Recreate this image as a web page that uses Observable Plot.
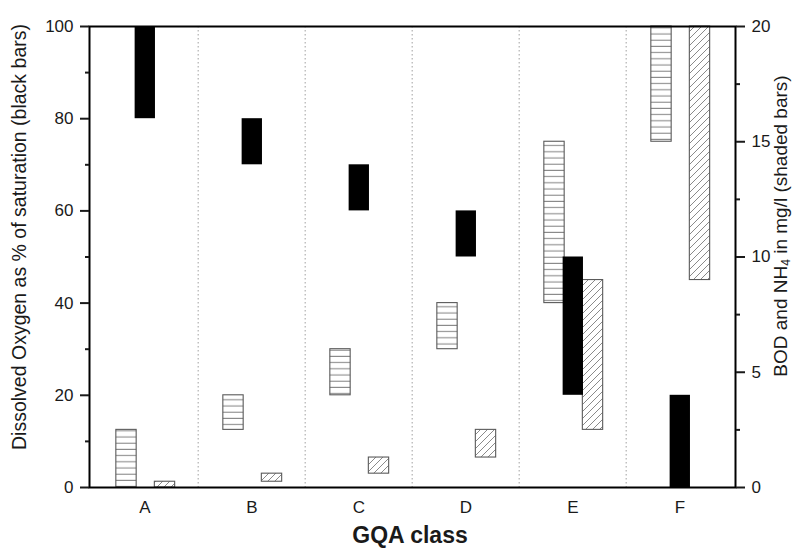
<!DOCTYPE html>
<html>
<head>
<meta charset="utf-8">
<script src="https://cdn.jsdelivr.net/npm/d3@7"></script>
<script src="https://cdn.jsdelivr.net/npm/@observablehq/plot@0.6"></script>
<style>
  body { margin: 0; background: #fff; }
  svg { display: block; }
</style>
</head>
<body>
<div id="chart"></div>
<script>
// ---- data ----
const classes = ["A", "B", "C", "D", "E", "F"];
// Dissolved oxygen, % saturation (black bars, left axis)
const doLow  = [80, 70, 60, 50, 20, 0];
const doHigh = [100, 80, 70, 60, 50, 20];
// BOD, mg/l (horizontally striped bars, right axis)
const bodLow  = [0, 2.5, 4, 6, 8, 15];
const bodHigh = [2.5, 4, 6, 8, 15, 20];
// NH4, mg/l (diagonally hatched bars, right axis)
const nh4Low  = [0, 0.25, 0.6, 1.3, 2.5, 9];
const nh4High = [0.25, 0.6, 1.3, 2.5, 9, 20];

const leftTicks  = [0, 20, 40, 60, 80, 100];
const leftMinor  = [10, 30, 50, 70, 90];
const rightTicks = [0, 5, 10, 15, 20];
const rightMinor = [2.5, 7.5, 12.5, 17.5];

const leftTitle = "Dissolved Oxygen as % of saturation (black bars)";
const rightTitleParts = ["BOD and NH", "4", " in mg/l (shaded bars)"];
const xTitle = "GQA class";

// ---- layout ----
const W = 795, H = 550;
const mL = 89, mR = 60, mT = 26, mB = 63;
const bw = (W - mL - mR) / classes.length;
const leftMax = 100, rightMax = 20;
const k = leftMax / rightMax; // mg/l -> % position on shared y scale
const fs = 17;

const rows = classes.map((c, i) => ({
  cls: c,
  doLow: doLow[i], doHigh: doHigh[i],
  bodLow: bodLow[i] * k, bodHigh: bodHigh[i] * k,
  nh4Low: nh4Low[i] * k, nh4High: nh4High[i] * k
}));

const barW = 21;
const cStr = bw / 2 - 18.5, cBlk = bw / 2 + 0.3, cHat = bw / 2 + 20;
const ins = (c) => ({insetLeft: c - barW / 2, insetRight: bw - c - barW / 2});

const chart = Plot.plot({
  width: W, height: H,
  marginLeft: mL, marginRight: mR, marginTop: mT, marginBottom: mB,
  x: {type: "band", domain: classes, padding: 0},
  y: {domain: [0, leftMax]},
  style: {fontFamily: "'Liberation Sans', Arial, sans-serif", fontSize: fs + "px", color: "#1a1a1a", background: "white", overflow: "visible"},
  marks: [
    Plot.ruleX(classes.slice(1), {x: d => d, dx: -bw / 2, stroke: "#a0a0a0", strokeWidth: 1, strokeDasharray: "1.5,2.5"}),
    Plot.barY(rows, {x: "cls", y1: "bodLow", y2: "bodHigh", fill: "url(#stripes)", stroke: "#5a5a5a", strokeWidth: 1.1, ...ins(cStr)}),
    Plot.barY(rows, {x: "cls", y1: "nh4Low", y2: "nh4High", fill: "url(#hatch)", stroke: "#5a5a5a", strokeWidth: 1.1, ...ins(cHat)}),
    Plot.barY(rows, {x: "cls", y1: "doLow", y2: "doHigh", fill: "black", ...ins(cBlk)}),
    Plot.frame({stroke: "black", strokeWidth: 2}),
    Plot.axisY(leftTicks, {anchor: "left", tickSize: 9, tickPadding: 7, strokeWidth: 2, fontSize: fs, label: null}),
    Plot.axisY(leftMinor, {anchor: "left", tickSize: 4, strokeWidth: 2, tickFormat: () => "", label: null}),
    Plot.axisY(rightTicks.map(v => v * k), {anchor: "right", tickSize: 9, tickPadding: 7, strokeWidth: 2, fontSize: fs, tickFormat: d => String(d / k), label: null}),
    Plot.axisY(rightMinor.map(v => v * k), {anchor: "right", tickSize: 4, strokeWidth: 2, tickFormat: () => "", label: null}),
    Plot.axisX(classes, {tickSize: 0, tickPadding: 13, fontSize: fs, label: null})
  ]
});

document.getElementById("chart").appendChild(chart);

const svg = d3.select(chart);
const defs = svg.insert("defs", ":first-child");
const sp = defs.append("pattern").attr("id", "stripes").attr("patternUnits", "userSpaceOnUse")
  .attr("width", 10).attr("height", 6.2);
sp.append("rect").attr("width", 10).attr("height", 6.2).attr("fill", "white");
sp.append("line").attr("x1", 0).attr("x2", 10).attr("y1", 3).attr("y2", 3).attr("stroke", "#8a8a8a").attr("stroke-width", 1.1);
const hp = defs.append("pattern").attr("id", "hatch").attr("patternUnits", "userSpaceOnUse")
  .attr("width", 7).attr("height", 7);
hp.append("rect").attr("width", 7).attr("height", 7).attr("fill", "white");
hp.append("path").attr("d", "M-1,1 l2,-2 M0,7 l7,-7 M6,8 l2,-2").attr("stroke", "#8a8a8a").attr("stroke-width", 1);

const ff = "'Liberation Sans', Arial, sans-serif";
svg.append("text")
  .attr("transform", "translate(26,237) rotate(-90)")
  .attr("text-anchor", "middle").attr("font-family", ff).attr("font-size", 19.5).attr("fill", "#1a1a1a")
  .text(leftTitle);

const rt = svg.append("text")
  .attr("transform", "translate(787,226) rotate(-90)")
  .attr("text-anchor", "middle").attr("font-family", ff).attr("font-size", 19).attr("fill", "#1a1a1a");
rt.append("tspan").text(rightTitleParts[0]);
rt.append("tspan").attr("font-size", 12).attr("dy", 3).text(rightTitleParts[1]);
rt.append("tspan").attr("dy", -3).text(rightTitleParts[2]);

svg.append("text")
  .attr("x", 410).attr("y", 543)
  .attr("text-anchor", "middle").attr("font-family", ff).attr("font-size", 23).attr("font-weight", "bold").attr("fill", "#1a1a1a")
  .text(xTitle);
</script>
</body>
</html>
